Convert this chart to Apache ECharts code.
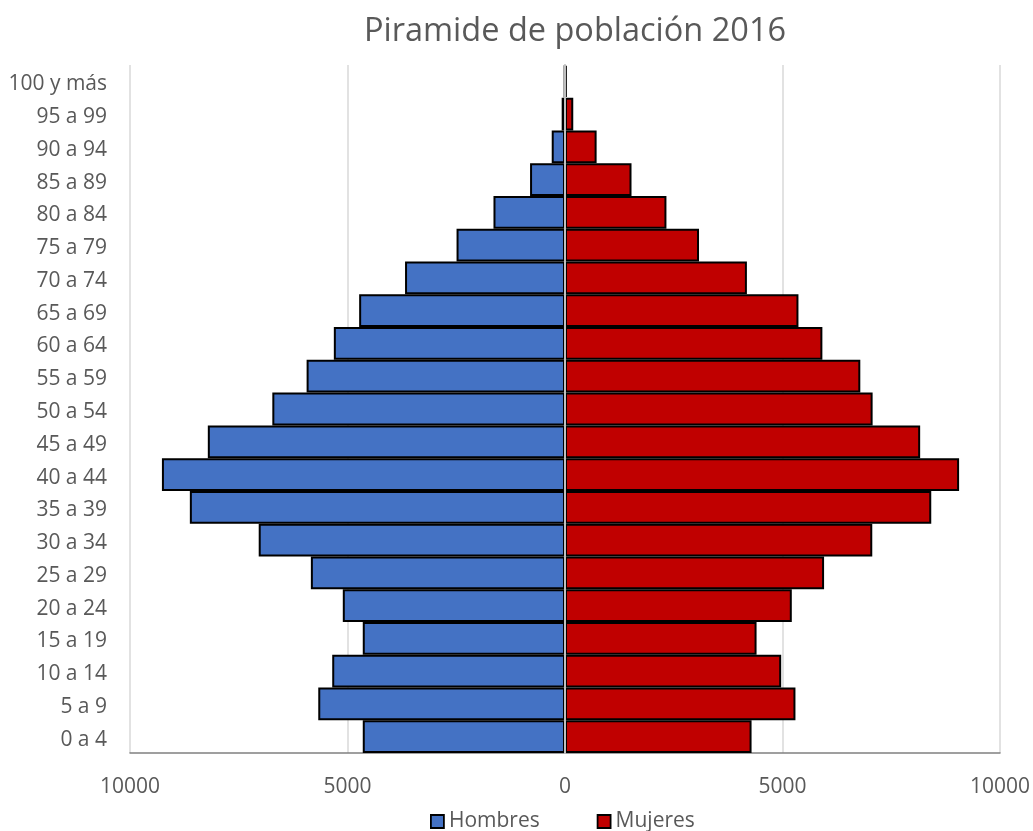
<!DOCTYPE html>
<html>
<head>
<meta charset="utf-8">
<script src="https://cdn.jsdelivr.net/npm/echarts@6/dist/echarts.min.js"></script>
<style>
html,body{margin:0;padding:0;background:#fff;}
#chart{width:1033px;height:831px;}
</style>
</head>
<body>
<div id="chart"></div>
<script>
const categories = ['0 a 4','5 a 9','10 a 14','15 a 19','20 a 24','25 a 29','30 a 34','35 a 39','40 a 44','45 a 49','50 a 54','55 a 59','60 a 64','65 a 69','70 a 74','75 a 79','80 a 84','85 a 89','90 a 94','95 a 99','100 y más'];
const hombres = [4649, 5672, 5351, 4649, 5108, 5842, 7041, 8624, 9266, 8211, 6728, 5940, 5314, 4732, 3677, 2493, 1644, 803, 305, 76, 15];
const mujeres = [4289, 5298, 4970, 4404, 5214, 5956, 7064, 8420, 9060, 8165, 7072, 6789, 5917, 5367, 4182, 3081, 2332, 1529, 727, 190, 40];
const xTicks = [-10000, -5000, 0, 5000, 10000];

const FONT = 'Open Sans';
const chart = echarts.init(document.getElementById('chart'), null, {renderer: 'canvas'});
chart.setOption({
  animation: false,
  backgroundColor: '#ffffff',
  textStyle: {fontFamily: FONT},
  graphic: [{
    type: 'text',
    x: 575,
    y: 32,
    style: {
      text: 'Piramide de población 2016',
      align: 'center',
      verticalAlign: 'middle',
      fontFamily: FONT,
      fontSize: 32.5,
      fill: '#595959'
    }
  }],
  legend: {
    bottom: -1,
    left: 430,
    padding: 0,
    itemWidth: 13,
    itemHeight: 13,
    itemGap: 57,
    textStyle: {fontFamily: FONT, fontSize: 21, color: '#595959'},
    data: [
      {name: 'Hombres', icon: 'rect', itemStyle: {color: '#4472c4', borderColor: '#000', borderWidth: 1.8}},
      {name: 'Mujeres', icon: 'rect', itemStyle: {color: '#c00000', borderColor: '#000', borderWidth: 1.8}}
    ]
  },
  grid: {left: 130, right: 31, top: 65, bottom: 78, containLabel: false},
  xAxis: {
    type: 'value',
    min: xTicks[0],
    max: xTicks[xTicks.length - 1],
    interval: 5000,
    axisLine: {show: true, onZero: false, lineStyle: {color: '#808080', width: 1.5}},
    axisTick: {show: false},
    splitLine: {show: true, lineStyle: {color: '#d9d9d9', width: 1.5}},
    axisLabel: {
      fontFamily: FONT, fontSize: 21, color: '#595959', margin: 24,
      formatter: v => String(Math.abs(v))
    }
  },
  yAxis: {
    type: 'category',
    data: categories,
    z: 10,
    axisLine: {show: true, onZero: true, lineStyle: {color: '#bfbfbf', width: 2}},
    axisTick: {show: false},
    axisLabel: {
      margin: 23,
      formatter: v => '{c|' + v + '}',
      rich: {c: {fontFamily: FONT, fontSize: 21, color: '#595959', padding: [6, 0, 0, 0]}}
    }
  },
  series: [
    {
      name: 'Hombres',
      type: 'bar',
      stack: 'pop',
      barCategoryGap: '0%',
      data: hombres.map(v => -v),
      itemStyle: {color: '#4472c4', borderColor: '#000000', borderWidth: 2}
    },
    {
      name: 'Mujeres',
      type: 'bar',
      stack: 'pop',
      barCategoryGap: '0%',
      data: mujeres,
      itemStyle: {color: '#c00000', borderColor: '#000000', borderWidth: 2}
    }
  ]
});
</script>
</body>
</html>
